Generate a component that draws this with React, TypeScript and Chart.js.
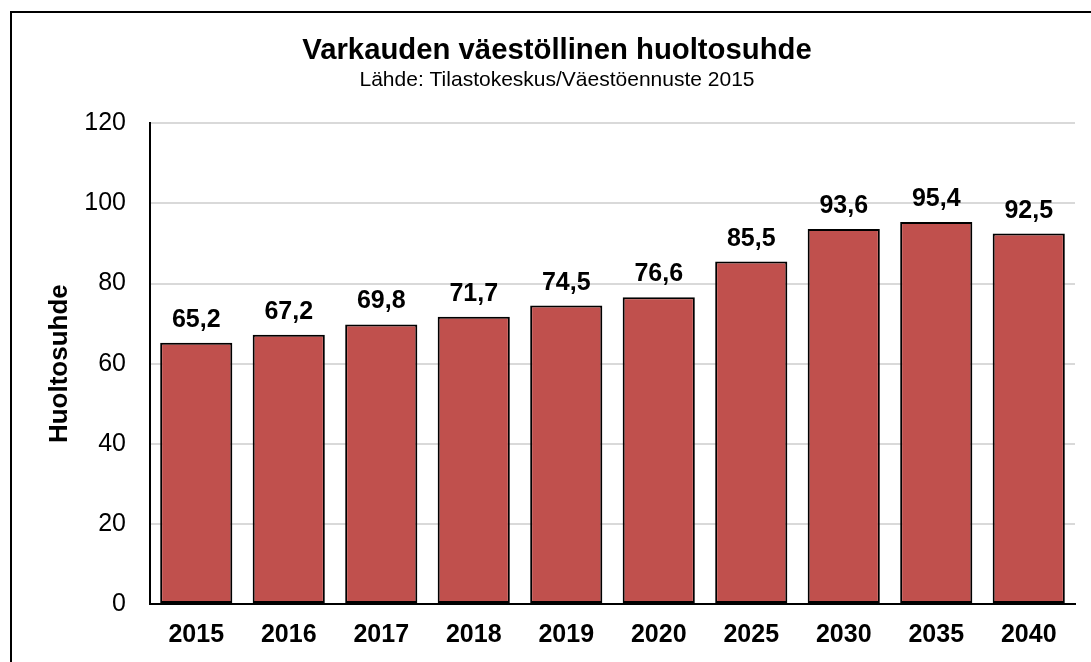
import React, { useEffect, useRef } from "react";
import { Chart, registerables } from "chart.js";

Chart.register(...registerables);

const categories = ["2015", "2016", "2017", "2018", "2019", "2020", "2025", "2030", "2035", "2040"];
const values = [65.2, 67.2, 69.8, 71.7, 74.5, 76.6, 85.5, 93.6, 95.4, 92.5];
const yTicks = [0, 20, 40, 60, 80, 100, 120];
const titleText = "Varkauden väestöllinen huoltosuhde";
const subtitleText = "Lähde: Tilastokeskus/Väestöennuste 2015";
const yAxisTitle = "Huoltosuhde";

const FONT = "'Liberation Sans', Arial, Helvetica, sans-serif";
const BAR_COLOR = "#C0504D";

const CANVAS_W = 1090;
const CANVAS_H = 649;
const PAD_SIDE = 27;
const AREA_LEFT = 138;
const AREA_BOTTOM = 591;

const dataLabels = {
  id: "dataLabels",
  afterDatasetsDraw(chart: any) {
    const ctx = chart.ctx;
    const meta = chart.getDatasetMeta(0);
    ctx.save();
    ctx.font = `bold 25px ${FONT}`;
    ctx.fillStyle = "#000";
    ctx.textAlign = "center";
    ctx.textBaseline = "alphabetic";
    meta.data.forEach((bar: any, i: number) => {
      const txt = values[i].toFixed(1).replace(".", ",");
      ctx.fillText(txt, bar.x, bar.y - 16);
    });
    ctx.restore();
  },
};

export default function App() {
  const ref = useRef<HTMLCanvasElement>(null);
  useEffect(() => {
    document.documentElement.style.overflow = "hidden";
    document.body.style.overflow = "hidden";
    const canvas = ref.current!;
    const chart = new Chart(canvas, {
      type: "bar",
      data: {
        labels: categories,
        datasets: [
          {
            data: values,
            backgroundColor: BAR_COLOR,
            borderColor: "#000",
            borderWidth: 2,
            borderSkipped: false,
            barPercentage: 0.78,
            categoryPercentage: 1,
          },
        ],
      },
      options: {
        responsive: false,
        animation: false,
        devicePixelRatio: 1,
        layout: { padding: { left: PAD_SIDE, right: PAD_SIDE, top: 0, bottom: 0 } },
        plugins: {
          legend: { display: false },
          tooltip: { enabled: false },
          title: {
            display: true,
            text: titleText,
            color: "#000",
            font: { family: FONT, size: 29.3, weight: "bold" },
            padding: { top: 20, bottom: -1 },
          },
          subtitle: {
            display: true,
            text: subtitleText,
            color: "#000",
            font: { family: FONT, size: 21 },
            padding: { top: 0, bottom: 31 },
          },
        },
        scales: {
          x: {
            grid: { display: false, drawTicks: false },
            border: { color: "#000", width: 2 },
            ticks: {
              color: "#000",
              font: { family: FONT, size: 25, weight: "bold" },
              padding: 16,
              maxRotation: 0,
              autoSkip: false,
            },
            afterFit(scale: any) {
              scale.height = CANVAS_H - AREA_BOTTOM;
            },
          },
          y: {
            min: 0,
            max: 120,
            afterBuildTicks(scale: any) {
              scale.ticks = yTicks.map((v) => ({ value: v }));
            },
            grid: { color: "#D9D9D9", lineWidth: 2, drawTicks: false },
            border: { color: "#000", width: 2 },
            ticks: {
              color: "#000",
              font: { family: FONT, size: 25 },
              padding: 24,
            },
            title: {
              display: true,
              text: yAxisTitle,
              color: "#000",
              font: { family: FONT, size: 26, weight: "bold" },
              padding: { top: 5, bottom: 0 },
            },
            afterFit(scale: any) {
              scale.width = AREA_LEFT - PAD_SIDE;
            },
          },
        },
      },
      plugins: [dataLabels],
    });
    return () => chart.destroy();
  }, []);

  return (
    <div
      style={{
        position: "absolute",
        left: 10,
        top: 11,
        width: 1100,
        height: 700,
        border: "2px solid #000",
        background: "#fff",
      }}
    >
      <canvas ref={ref} width={CANVAS_W} height={CANVAS_H} style={{ display: "block" }} />
    </div>
  );
}
